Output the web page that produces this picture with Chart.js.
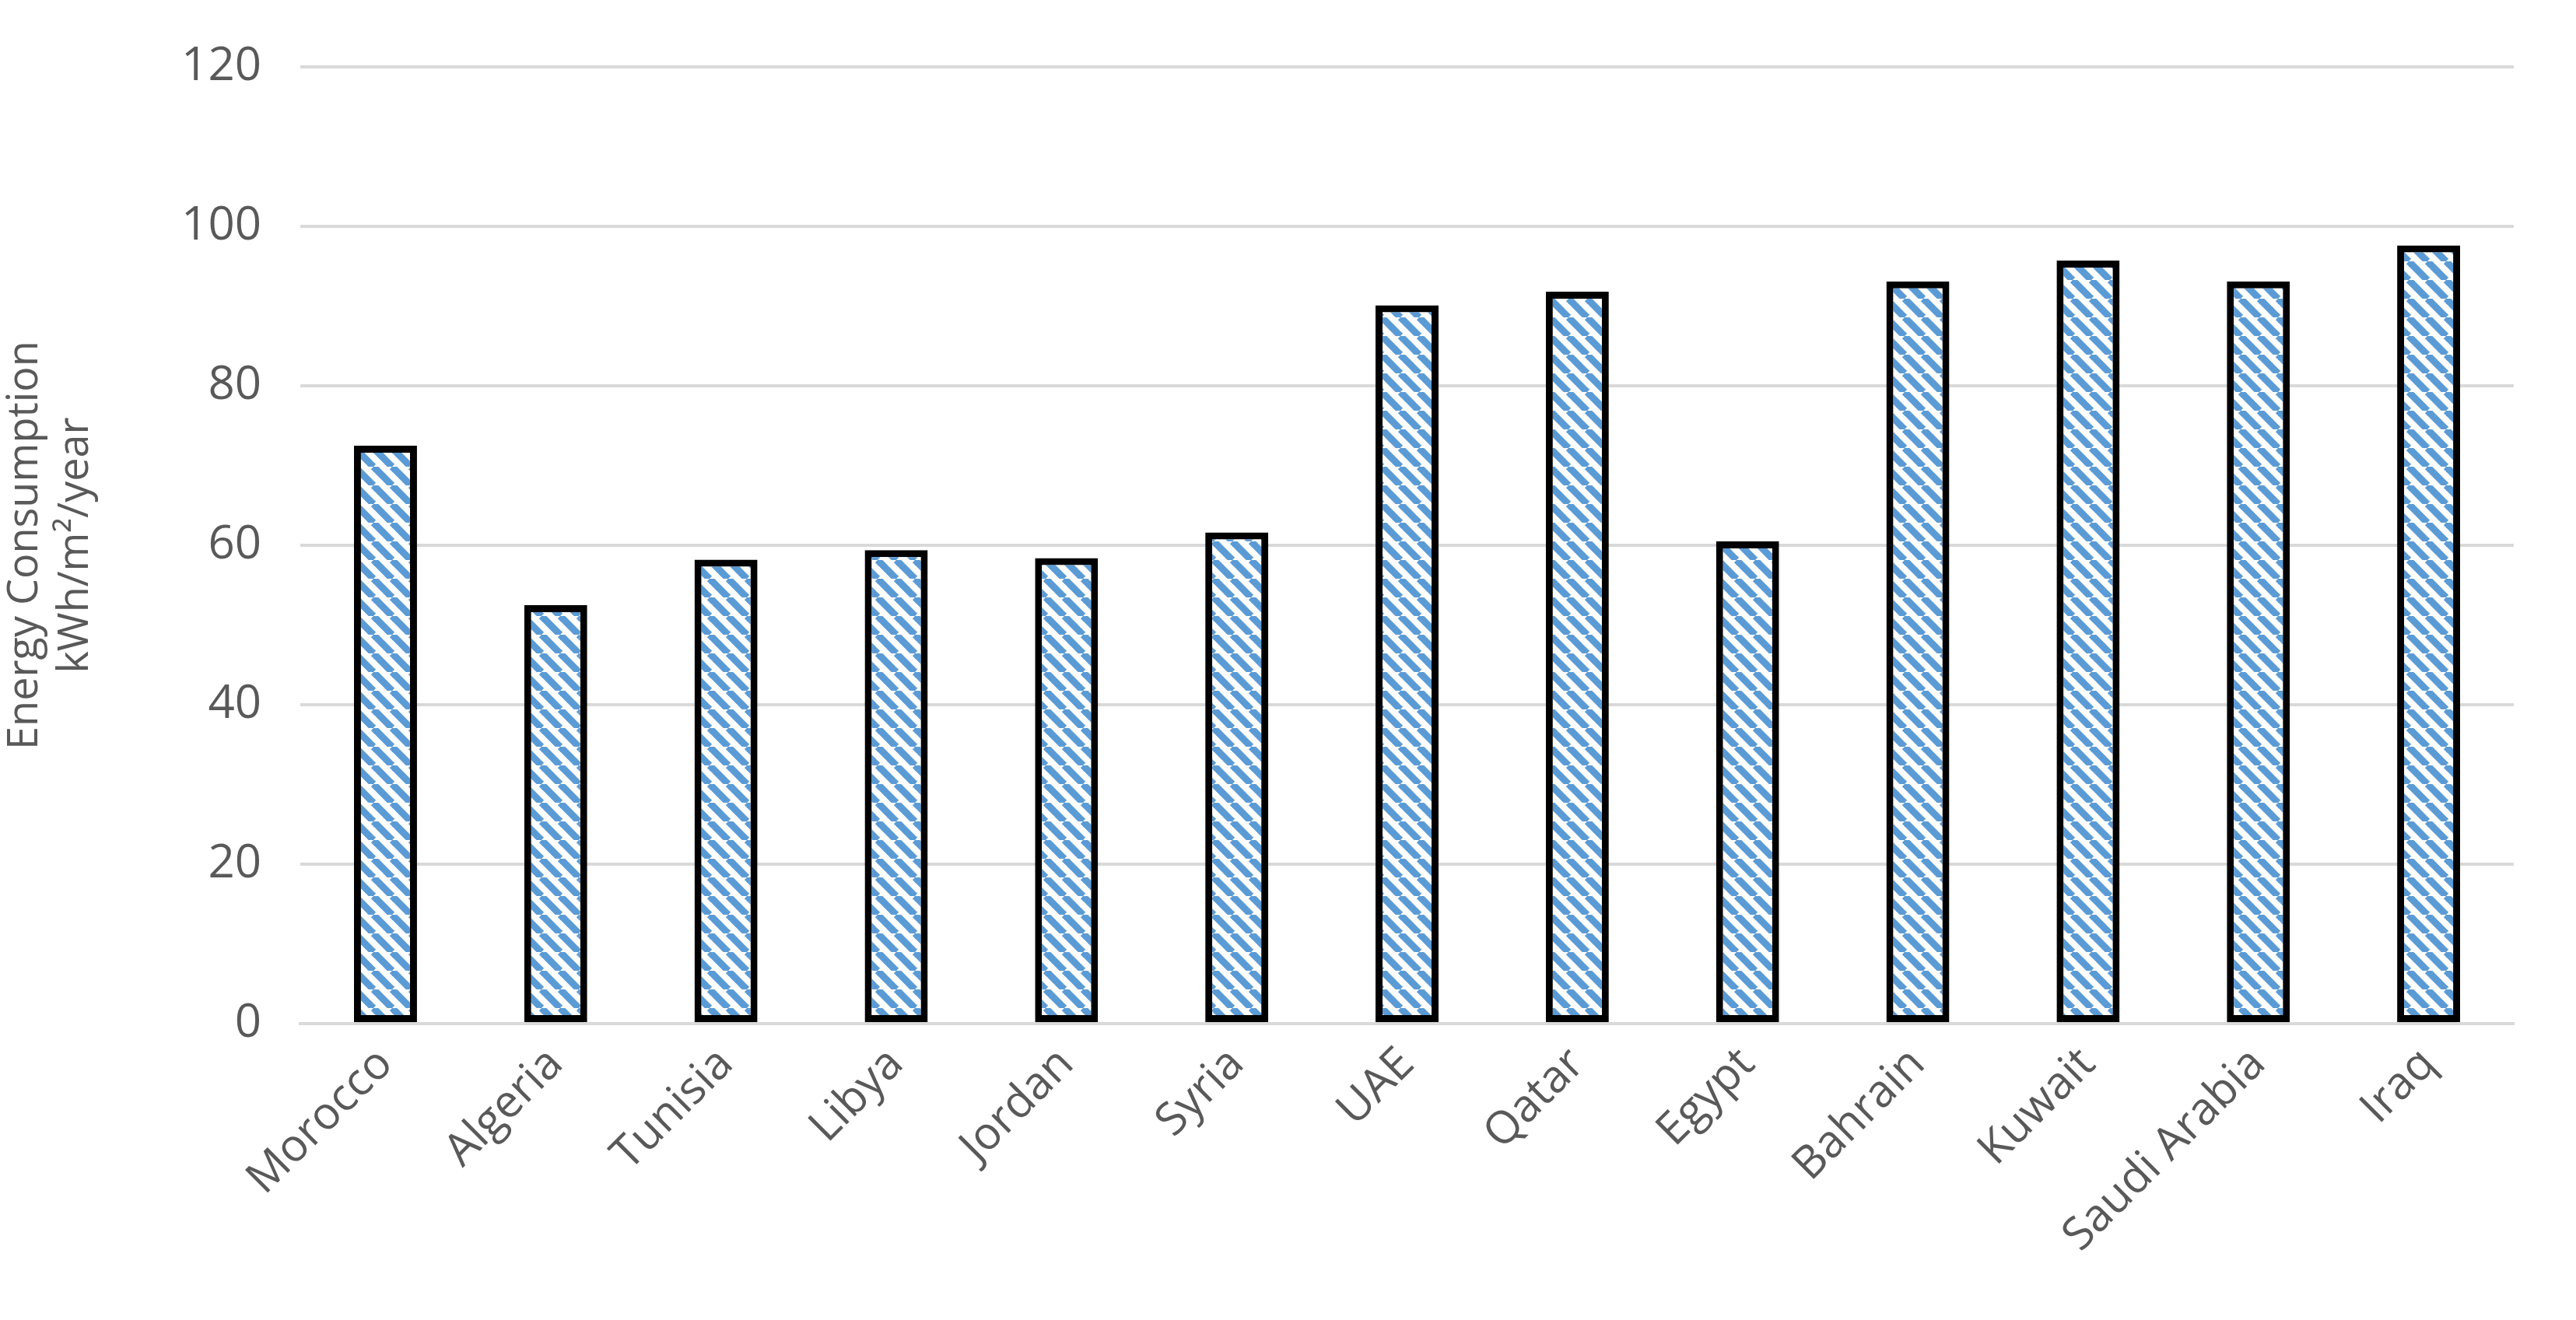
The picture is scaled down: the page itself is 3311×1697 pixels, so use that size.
<!DOCTYPE html>
<html>
<head>
<meta charset="utf-8">
<script src="https://cdn.jsdelivr.net/npm/chart.js@4"></script>
<style>
  html, body { margin: 0; padding: 0; background: #fff; }
  #wrap { width: 3311px; height: 1697px; }
</style>
</head>
<body>
<div id="wrap"><canvas id="chart"></canvas></div>
<script>
// Data
const countries = ['Morocco', 'Algeria', 'Tunisia', 'Libya', 'Jordan', 'Syria', 'UAE',
  'Qatar', 'Egypt', 'Bahrain', 'Kuwait', 'Saudi Arabia', 'Iraq'];
const consumption = [72.5, 52.5, 58.2, 59.4, 58.4, 61.6, 90.1, 91.8, 60.5, 93.1, 95.7, 93.1, 97.6];
const yTicks = [0, 20, 40, 60, 80, 100, 120];

// Diagonal blue/white stripe fill like the original
function stripePattern() {
  const size = 24;
  const c = document.createElement('canvas');
  c.width = size; c.height = size;
  const g = c.getContext('2d');
  g.fillStyle = '#ffffff';
  g.fillRect(0, 0, size, size);
  g.strokeStyle = '#5B9BD5';
  g.lineWidth = 9;
  for (let k = -1; k <= 1; k++) {
    g.beginPath();
    g.moveTo(k * size, 0);
    g.lineTo(k * size + size, size);
    g.stroke();
  }
  return g.createPattern(c, 'repeat');
}

const font = "'Open Sans', sans-serif";

new Chart(document.getElementById('chart'), {
  type: 'bar',
  data: {
    labels: countries,
    datasets: [{
      data: consumption,
      backgroundColor: stripePattern(),
      borderColor: '#000000',
      borderWidth: 9,
      borderSkipped: false,
      barPercentage: 0.37,
      categoryPercentage: 1
    }]
  },
  options: {
    responsive: true,
    maintainAspectRatio: false,
    animation: false,
    layout: { padding: { top: 6, right: 80, left: 0, bottom: 0 } },
    plugins: { legend: { display: false }, tooltip: { enabled: false } },
    scales: {
      x: {
        grid: { display: false },
        border: { display: true, color: '#d9d9d9', width: 4 },
        ticks: {
          color: '#595959',
          font: { family: font, size: 58 },
          maxRotation: 45, minRotation: 45,
          padding: 10
        },
        afterFit: (s) => { s.height = 381; }
      },
      y: {
        min: 0, max: 120,
        afterBuildTicks: (s) => { s.ticks = yTicks.map(v => ({ value: v })); },
        grid: { color: '#d9d9d9', lineWidth: 4, drawTicks: false },
        border: { display: false },
        ticks: {
          color: '#595959',
          font: { family: font, size: 60 },
          padding: 50
        },
        title: {
          display: true,
          text: ['Energy Consumption', 'kWh/m\u00B2/year'],
          color: '#595959',
          font: { family: font, size: 54 },
          padding: 0
        },
        afterFit: (s) => { s.width = 386; }
      }
    }
  }
});
</script>
</body>
</html>
